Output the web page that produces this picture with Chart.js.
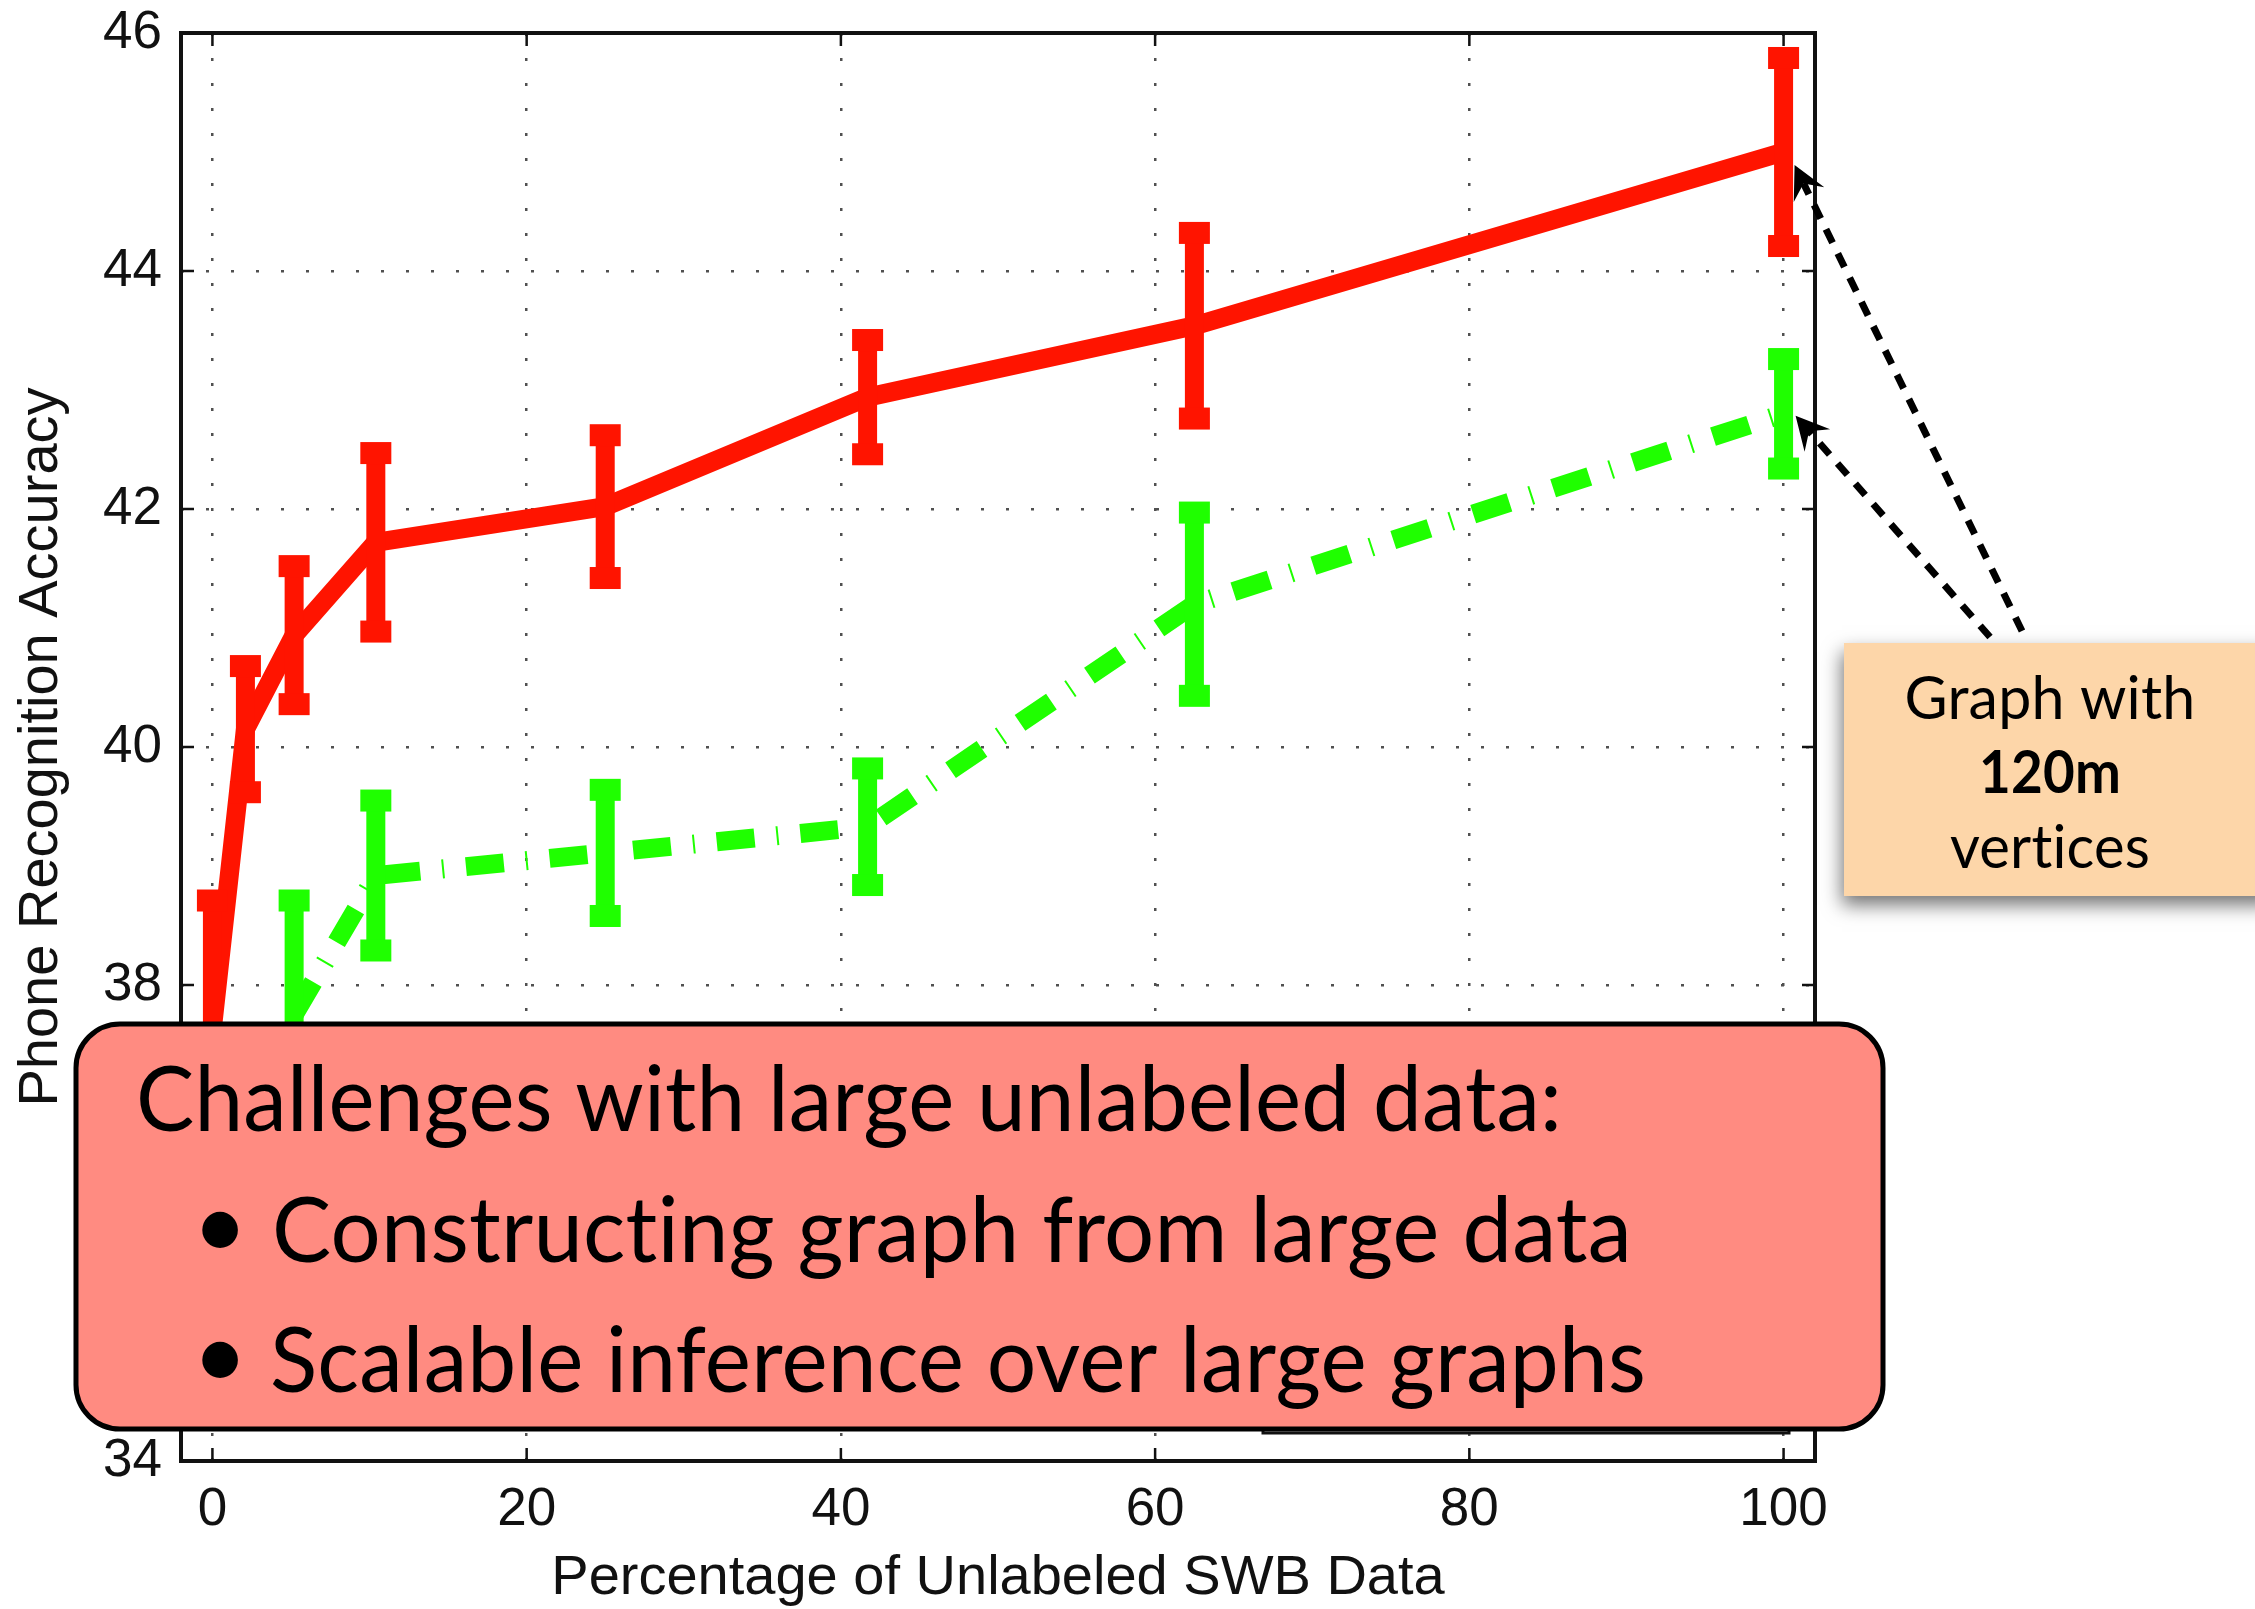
<!DOCTYPE html>
<html>
<head>
<meta charset="utf-8">
<script src="https://cdn.jsdelivr.net/npm/chart.js@4.4.1/dist/chart.umd.min.js"></script>
<style>
  html, body { margin: 0; padding: 0; background: #ffffff; overflow: hidden; }
  canvas { display: block; }
</style>
</head>
<body>
<canvas id="chart" width="2255" height="1609"></canvas>
<script>
// Phone recognition accuracy vs. amount of unlabeled SWB data
const redX     = [0, 2.1, 5.2, 10.4, 25, 41.7, 62.5, 100];
const redAcc   = [37.64, 40.15, 40.94, 41.72, 42.02, 42.94, 43.54, 45.0];
const redErr   = [1.07, 0.53, 0.58, 0.75, 0.60, 0.48, 0.78, 0.79];

const greenX   = [5.2, 10.4, 25, 41.7, 62.5, 100];
const greenAcc = [37.75, 38.92, 39.11, 39.33, 41.20, 42.80];
const greenErr = [0.96, 0.63, 0.53, 0.49, 0.77, 0.46];

const xTicks = [0, 20, 40, 60, 80, 100];
const yTicks = [34, 36, 38, 40, 42, 44, 46];

const xTitle = 'Percentage of Unlabeled SWB Data';
const yTitle = 'Phone Recognition Accuracy';

const challengeTitle = 'Challenges with large unlabeled data:';
const challengeItems = ['Constructing graph from large data', 'Scalable inference over large graphs'];
const calloutLines = ['Graph with', '120m', 'vertices'];

// ---- styling ----
const RED = '#ff1400';
const GREEN = '#1fff00';
const AXIS_FONT = '"Liberation Sans", Arial, Helvetica, sans-serif';
const NOTE_FONT = 'Lato, "Open Sans", sans-serif';
const LINE_W = 19, BAR_W = 19, CAP_W = 31, CAP_H = 22;

const toPoints = (xs, ys) => xs.map((x, i) => ({ x, y: ys[i] }));

// Error bars with block caps, drawn over each series
const errorBars = {
  id: 'errorBars',
  afterDatasetsDraw(chart) {
    const { ctx, scales: { x, y } } = chart;
    ctx.save();
    chart.data.datasets.forEach(ds => {
      ctx.fillStyle = ds.borderColor;
      ds.data.forEach((p, i) => {
        const px = x.getPixelForValue(p.x);
        const top = y.getPixelForValue(p.y + ds.errors[i]);
        const bot = y.getPixelForValue(p.y - ds.errors[i]);
        ctx.fillRect(px - BAR_W / 2, top, BAR_W, bot - top);
        ctx.fillRect(px - CAP_W / 2, top - CAP_H / 2, CAP_W, CAP_H);
        ctx.fillRect(px - CAP_W / 2, bot - CAP_H / 2, CAP_W, CAP_H);
      });
    });
    ctx.restore();
  }
};

// Text drawn to span a given width
function fitText(ctx, text, x, y, font, width, align) {
  ctx.save();
  ctx.font = font;
  ctx.letterSpacing = '0.2px';
  const w = ctx.measureText(text).width;
  const k = width / w;
  ctx.translate(x, y);
  ctx.scale(k, 1);
  ctx.textAlign = align || 'left';
  ctx.textBaseline = 'alphabetic';
  ctx.fillText(text, 0, 0);
  ctx.restore();
}

function arrow(ctx, tail, tip) {
  const dx = tip.x - tail.x, dy = tip.y - tail.y;
  const len = Math.hypot(dx, dy);
  const ux = dx / len, uy = dy / len;
  const nx = -uy, ny = ux;
  const L = 33, W = 17;
  const notch = { x: tip.x - ux * L * 0.62, y: tip.y - uy * L * 0.62 };
  ctx.save();
  ctx.strokeStyle = '#000';
  ctx.lineWidth = 7;
  ctx.lineCap = 'butt';
  ctx.setLineDash([15, 12]);
  ctx.beginPath();
  ctx.moveTo(tail.x, tail.y);
  ctx.lineTo(notch.x, notch.y);
  ctx.stroke();
  ctx.setLineDash([]);
  ctx.fillStyle = '#000';
  ctx.beginPath();
  ctx.moveTo(tip.x, tip.y);
  ctx.lineTo(tip.x - ux * L + nx * W, tip.y - uy * L + ny * W);
  ctx.lineTo(notch.x, notch.y);
  ctx.lineTo(tip.x - ux * L - nx * W, tip.y - uy * L - ny * W);
  ctx.closePath();
  ctx.fill();
  ctx.restore();
}

// Axes box, inward ticks and the slide annotations
const frameAndNotes = {
  id: 'frameAndNotes',
  afterDraw(chart) {
    const { ctx, chartArea: a, scales: { x, y } } = chart;
    ctx.save();

    // inward tick marks on all four sides
    ctx.strokeStyle = '#111';
    ctx.lineWidth = 2.5;
    ctx.beginPath();
    xTicks.forEach(v => {
      const px = x.getPixelForValue(v);
      ctx.moveTo(px, a.bottom); ctx.lineTo(px, a.bottom - 13);
      ctx.moveTo(px, a.top); ctx.lineTo(px, a.top + 13);
    });
    yTicks.forEach(v => {
      const py = y.getPixelForValue(v);
      ctx.moveTo(a.left, py); ctx.lineTo(a.left + 13, py);
      ctx.moveTo(a.right, py); ctx.lineTo(a.right - 13, py);
    });
    ctx.stroke();

    // axes box
    ctx.lineWidth = 4;
    ctx.strokeStyle = '#111';
    ctx.strokeRect(a.left, a.top, a.right - a.left, a.bottom - a.top);

    // legend frame tucked in the lower right corner
    ctx.fillStyle = '#fff';
    ctx.lineWidth = 3;
    ctx.fillRect(a.right - 552, a.bottom - 260, 526, 232);
    ctx.strokeRect(a.right - 552, a.bottom - 260, 526, 232);

    // "Challenges" panel
    ctx.beginPath();
    ctx.roundRect(76, 1024, 1807, 405, 44);
    ctx.fillStyle = '#ff8b81';
    ctx.fill();
    ctx.lineWidth = 5;
    ctx.strokeStyle = '#000';
    ctx.stroke();

    ctx.fillStyle = '#000';
    fitText(ctx, challengeTitle, 136, 1131, '92px ' + NOTE_FONT, 1426);
    const itemX = [272, 270], itemBase = [1262, 1392], itemW = [1360, 1376];
    challengeItems.forEach((t, i) => {
      ctx.save();
      ctx.font = '96px ' + NOTE_FONT;
      ctx.textAlign = 'center';
      ctx.textBaseline = 'middle';
      ctx.fillText('\u2022', 220, itemBase[i] - 34);
      ctx.restore();
      fitText(ctx, t, itemX[i], itemBase[i], '92px ' + NOTE_FONT, itemW[i]);
    });

    // callout box with shadow
    const box = { x: 1844, y: 643, w: 430, h: 253 };
    ctx.save();
    ctx.shadowColor = 'rgba(0,0,0,0.55)';
    ctx.shadowBlur = 18;
    ctx.shadowOffsetX = -2;
    ctx.shadowOffsetY = 9;
    ctx.fillStyle = '#fdd6a9';
    ctx.fillRect(box.x, box.y, box.w, box.h);
    ctx.restore();

    ctx.fillStyle = '#000';
    const cx = 2050;
    fitText(ctx, calloutLines[0], cx, 719, '60px ' + NOTE_FONT, 291, 'center');
    fitText(ctx, calloutLines[1], cx, 793, 'bold 60px ' + NOTE_FONT, 142, 'center');
    fitText(ctx, calloutLines[2], cx, 868, '60px ' + NOTE_FONT, 200, 'center');

    // arrows from the callout to the 100% points
    const redLast = redAcc[redAcc.length - 1];
    const greenLast = greenAcc[greenAcc.length - 1];
    const x100 = x.getPixelForValue(redX[redX.length - 1]);
    arrow(ctx, { x: box.x + 178, y: box.y - 12 }, { x: x100 + 11, y: y.getPixelForValue(redLast) + 13 });
    arrow(ctx, { x: box.x + 146, y: box.y - 6 }, { x: x100 + 12, y: y.getPixelForValue(greenLast) + 2 });

    ctx.restore();
  }
};

const tickFont = { family: AXIS_FONT, size: 53 };
const titleFont = { family: AXIS_FONT, size: 56, lineHeight: 1 };

new Chart(document.getElementById('chart').getContext('2d'), {
  type: 'line',
  data: {
    datasets: [
      {
        data: toPoints(redX, redAcc),
        errors: redErr,
        borderColor: RED,
        borderWidth: LINE_W,
        borderCapStyle: 'butt',
        borderJoinStyle: 'miter',
        pointRadius: 0,
        tension: 0,
        fill: false
      },
      {
        data: toPoints(greenX, greenAcc),
        errors: greenErr,
        borderColor: GREEN,
        borderWidth: LINE_W,
        borderDash: [38, 22, 2, 22],
        borderCapStyle: 'butt',
        borderJoinStyle: 'miter',
        pointRadius: 0,
        tension: 0,
        fill: false
      }
    ]
  },
  options: {
    responsive: false,
    animation: false,
    devicePixelRatio: 1,
    layout: { padding: { left: 0, top: 33, right: 440, bottom: 0 } },
    plugins: { legend: { display: false }, tooltip: { enabled: false } },
    scales: {
      x: {
        type: 'linear',
        min: -2,
        max: 102,
        afterBuildTicks: s => { s.ticks = xTicks.map(v => ({ value: v })); },
        afterFit: s => { s.height = 148; s.paddingLeft = 0; s.paddingRight = 0; },
        grid: { color: '#505050', lineWidth: 2.5, drawTicks: false },
        border: { display: false, dash: [3, 22] },
        ticks: { color: '#111', font: tickFont, padding: 18, maxRotation: 0, autoSkip: false },
        title: { display: true, text: xTitle, color: '#111', font: titleFont, padding: { top: 0, bottom: 2 } }
      },
      y: {
        type: 'linear',
        min: 34,
        max: 46,
        afterBuildTicks: s => { s.ticks = yTicks.map(v => ({ value: v })); },
        afterFit: s => { s.width = 181; s.paddingTop = 0; s.paddingBottom = 0; },
        grid: { color: '#505050', lineWidth: 2.5, drawTicks: false },
        border: { display: false, dash: [3, 22] },
        ticks: { color: '#111', font: tickFont, padding: 19, autoSkip: false },
        title: { display: true, text: yTitle, color: '#111', font: titleFont, padding: { top: 14, bottom: 0 } }
      }
    }
  },
  plugins: [errorBars, frameAndNotes]
});
</script>
</body>
</html>
